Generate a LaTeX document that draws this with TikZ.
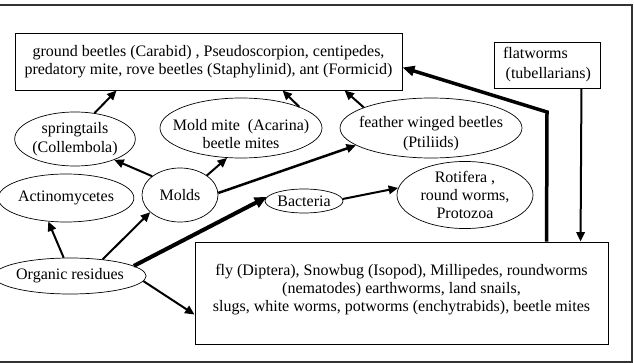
\documentclass[tikz,border=0pt]{standalone}
\usepackage{fontspec}
\setmainfont{Liberation Serif}
\usetikzlibrary{shapes.geometric,arrows.meta}
\begin{document}
\begin{tikzpicture}[x=1pt,y=-1pt, font=\fontsize{16}{18}\selectfont,
  box/.style={draw, line width=0.9pt, inner sep=0pt},
  ell/.style={draw, ellipse, line width=0.7pt, inner sep=0pt, align=center},
  arr/.style={line width=2pt, -{Triangle[length=9.5pt,width=8.5pt]}},
  thickarr/.style={line width=4pt, -{Triangle[length=12pt,width=11pt]}}]

\useasboundingbox (0,0) rectangle (634,363);
\draw[line width=1.2pt, black!80] (0,5) -- (632,5) -- (632,362) -- (0,362);

\node[box, minimum width=387pt, minimum height=57pt, align=center] (top) at (208.5,61.5)
  {ground beetles (Carabid) , Pseudoscorpion, centipedes,\\predatory mite, rove beetles (Staphylinid), ant (Formicid)};
\node[box, minimum width=106pt, minimum height=46pt, align=left] (flat) at (547,65)
  {flatworms\\[2pt]\,(tubellarians)};

\node[ell, minimum width=114pt, minimum height=54pt] (springtails) at (75,139) {springtails\\[1pt](Collembola)};
\node[ell, minimum width=162pt, minimum height=60pt,
  label={[align=center, yshift=-6pt]center:Mold mite~ (Acarina)\\beetle mites}] (moldmite) at (241,128) {};
\node[ell, minimum width=182pt, minimum height=60pt,
  label={[align=center, yshift=-6pt]center:feather winged beetles\\[2pt](Ptiliids)}] (feather) at (431,128) {};
\node[ell, minimum width=132pt, minimum height=48pt] (actino) at (66,198) {Actinomycetes};
\node[ell, minimum width=76pt, minimum height=54pt] (molds) at (180,195) {Molds};
\node[ell, minimum width=78pt, minimum height=24pt] (bacteria) at (304,201) {Bacteria};
\node[ell, minimum width=136pt, minimum height=66pt] (rotifera) at (465,195) {Rotifera ,\\round worms,\\Protozoa};
\node[ell, minimum width=134pt, minimum height=36pt] (organic) at (70,276) {Organic residues};

\node[box, minimum width=413pt, minimum height=102pt,
  label={[align=center, yshift=3pt]center:fly (Diptera), Snowbug (Isopod), Millipedes, roundworms\\(nematodes) earthworms, land snails,\\slugs, white worms, potworms (enchytrabids), beetle mites}] (bottom) at (401.5,293) {};

\coordinate (bend) at (547,112);

\draw[arr] (springtails.53) -- ([xshift=102pt]top.south west);
\draw[arr] (moldmite.20) -- ([xshift=268pt]top.south west);
\draw[arr] (feather.163) -- ([xshift=330pt]top.south west);
\draw[line width=3.5pt, -{Triangle[length=12pt,width=10pt]}] ([xshift=352pt]bottom.north west) -- (bend) -- ([yshift=23pt]top.south east);
\draw[arr] ([xshift=-19pt]flat.south east) -- ([xshift=386pt]bottom.north west);
\draw[arr] (molds.146) -- (springtails.-28);
\draw[arr] (molds.36) -- (moldmite.-115);
\draw[arr, line width=2.5pt] (molds.3) -- (feather.193);
\draw[arr] (organic.109) -- (actino.233);
\draw[arr] (organic.27) -- (molds.-150);
\draw[thickarr] (organic.9) -- (bacteria.174);
\draw[arr] (organic.-4) -- ([yshift=-73pt]bottom.north west);
\draw[arr] (bacteria.3) -- (rotifera.174);
\end{tikzpicture}
\end{document}
